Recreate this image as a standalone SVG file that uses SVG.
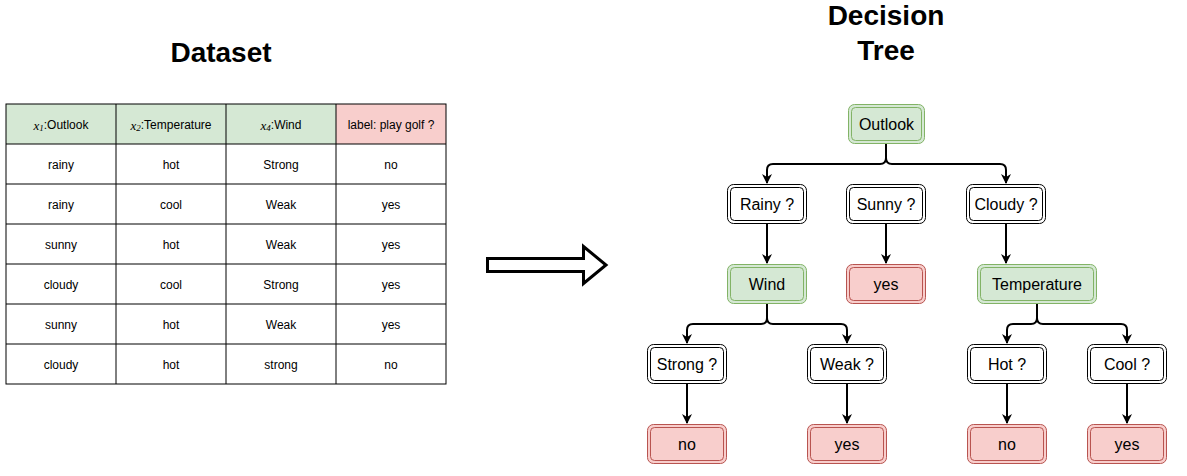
<svg xmlns="http://www.w3.org/2000/svg" width="1187" height="476" viewBox="0 0 1187 476">
<defs>
<marker id="ah" viewBox="0 0 10 10" refX="9" refY="5" markerWidth="10" markerHeight="10" markerUnits="userSpaceOnUse" orient="auto">
<path d="M0,0 L10,5 L0,10 L3,5 Z" fill="#000"/>
</marker>
</defs>
<style>
.title{font-family:"Liberation Sans",Arial,sans-serif;font-size:28px;font-weight:bold;fill:#000;text-anchor:middle}
.cell{font-family:"Liberation Sans",Arial,sans-serif;font-size:12px;fill:#000;text-anchor:middle;dominant-baseline:central}
.mx{font-family:"Liberation Serif","Times New Roman",serif;font-style:italic;font-size:13px}
.lbl{font-family:"Liberation Sans",Arial,sans-serif;font-size:16px;fill:#000;text-anchor:middle;dominant-baseline:central}
.w{fill:#fff;stroke:#000;stroke-width:1}
.g{fill:#d5e8d4;stroke:#82b366;stroke-width:1}
.r{fill:#f8cecc;stroke:#b85450;stroke-width:1}
.in{fill:none;stroke-width:1}
.conn path{fill:none;stroke:#000;stroke-width:2;marker-end:url(#ah)}
.tl{stroke:#000;stroke-width:1;fill:none}
</style>
<rect width="1187" height="476" fill="#fff"/>
<text class="title" x="221" y="62">Dataset</text>
<text class="title" x="886" y="25">Decision</text>
<text class="title" x="886" y="60">Tree</text>

<g id="table">
<rect x="6" y="104" width="330" height="40" fill="#d5e8d4"/>
<rect x="336" y="104" width="110" height="40" fill="#f8cecc"/>
<rect x="6" y="104" width="440" height="280" class="tl"/>
<path class="tl" d="M116,104V384M226,104V384M336,104V384M6,144H446M6,184H446M6,224H446M6,264H446M6,304H446M6,344H446"/>
<text class="cell" x="61" y="125"><tspan class="mx">x</tspan><tspan font-size="9" class="mx" dy="3" style="font-size:9px">1</tspan><tspan dy="-3">:Outlook</tspan></text>
<text class="cell" x="171" y="125"><tspan class="mx">x</tspan><tspan class="mx" dy="3" style="font-size:9px">2</tspan><tspan dy="-3">:Temperature</tspan></text>
<text class="cell" x="281" y="125"><tspan class="mx">x</tspan><tspan class="mx" dy="3" style="font-size:9px">4</tspan><tspan dy="-3">:Wind</tspan></text>
<text class="cell" x="391" y="125">label: play golf ?</text>
<text class="cell" x="61" y="165">rainy</text><text class="cell" x="171" y="165">hot</text><text class="cell" x="281" y="165">Strong</text><text class="cell" x="391" y="165">no</text>
<text class="cell" x="61" y="205">rainy</text><text class="cell" x="171" y="205">cool</text><text class="cell" x="281" y="205">Weak</text><text class="cell" x="391" y="205">yes</text>
<text class="cell" x="61" y="245">sunny</text><text class="cell" x="171" y="245">hot</text><text class="cell" x="281" y="245">Weak</text><text class="cell" x="391" y="245">yes</text>
<text class="cell" x="61" y="285">cloudy</text><text class="cell" x="171" y="285">cool</text><text class="cell" x="281" y="285">Strong</text><text class="cell" x="391" y="285">yes</text>
<text class="cell" x="61" y="325">sunny</text><text class="cell" x="171" y="325">hot</text><text class="cell" x="281" y="325">Weak</text><text class="cell" x="391" y="325">yes</text>
<text class="cell" x="61" y="365">cloudy</text><text class="cell" x="171" y="365">hot</text><text class="cell" x="281" y="365">strong</text><text class="cell" x="391" y="365">no</text>
</g>

<g id="bigarrow">
<path d="M487.5,258.5H583.5V246.5L606,265L583.5,283.5V271.5H487.5Z" fill="#fff" stroke="#000" stroke-width="3" stroke-linejoin="miter"/>
</g>

<g id="connectors" class="conn">
<path d="M886,144V158Q886,164 880,164H773Q767,164 767,170V183"/>
<path d="M886,144V158Q886,164 892,164H1000Q1006,164 1006,170V183"/>
<path d="M886,224V263"/>
<path d="M767,224V263"/>
<path d="M1006,224V263"/>
<path d="M767,304V318Q767,324 761,324H693Q687,324 687,330V343"/>
<path d="M767,304V318Q767,324 773,324H841Q847,324 847,330V343"/>
<path d="M1037,304V318Q1037,324 1031,324H1013Q1007,324 1007,330V343"/>
<path d="M1037,304V318Q1037,324 1043,324H1121Q1127,324 1127,330V343"/>
<path d="M687,384V423"/>
<path d="M847,384V423"/>
<path d="M1007,384V423"/>
<path d="M1127,384V423"/>
</g>

<g id="n-outlook"><rect class="g" x="848.5" y="104.5" width="76" height="39" rx="6"/><rect class="in" stroke="#82b366" x="851.5" y="107.5" width="70" height="33" rx="4"/><text class="lbl" x="886.5" y="124">Outlook</text></g>
<g id="n-rainy"><rect class="w" x="727.5" y="184.5" width="79" height="39" rx="6"/><rect class="in" stroke="#000" x="730.5" y="187.5" width="73" height="33" rx="4"/><text class="lbl" x="767" y="204">Rainy ?</text></g>
<g id="n-sunny"><rect class="w" x="846.5" y="184.5" width="79" height="39" rx="6"/><rect class="in" stroke="#000" x="849.5" y="187.5" width="73" height="33" rx="4"/><text class="lbl" x="886" y="204">Sunny ?</text></g>
<g id="n-cloudy"><rect class="w" x="966.5" y="184.5" width="79" height="39" rx="6"/><rect class="in" stroke="#000" x="969.5" y="187.5" width="73" height="33" rx="4"/><text class="lbl" x="1006" y="204">Cloudy ?</text></g>
<g id="n-wind"><rect class="g" x="727.5" y="264.5" width="79" height="39" rx="6"/><rect class="in" stroke="#82b366" x="730.5" y="267.5" width="73" height="33" rx="4"/><text class="lbl" x="767" y="284">Wind</text></g>
<g id="n-yes1"><rect class="r" x="846.5" y="264.5" width="79" height="39" rx="6"/><rect class="in" stroke="#b85450" x="849.5" y="267.5" width="73" height="33" rx="4"/><text class="lbl" x="886" y="284">yes</text></g>
<g id="n-temp"><rect class="g" x="977.5" y="264.5" width="119" height="39" rx="6"/><rect class="in" stroke="#82b366" x="980.5" y="267.5" width="113" height="33" rx="4"/><text class="lbl" x="1037" y="284">Temperature</text></g>
<g id="n-strong"><rect class="w" x="647.5" y="344.5" width="79" height="39" rx="6"/><rect class="in" stroke="#000" x="650.5" y="347.5" width="73" height="33" rx="4"/><text class="lbl" x="687" y="364">Strong ?</text></g>
<g id="n-weak"><rect class="w" x="807.5" y="344.5" width="79" height="39" rx="6"/><rect class="in" stroke="#000" x="810.5" y="347.5" width="73" height="33" rx="4"/><text class="lbl" x="847" y="364">Weak ?</text></g>
<g id="n-hot"><rect class="w" x="967.5" y="344.5" width="79" height="39" rx="6"/><rect class="in" stroke="#000" x="970.5" y="347.5" width="73" height="33" rx="4"/><text class="lbl" x="1007" y="364">Hot ?</text></g>
<g id="n-cool"><rect class="w" x="1087.5" y="344.5" width="79" height="39" rx="6"/><rect class="in" stroke="#000" x="1090.5" y="347.5" width="73" height="33" rx="4"/><text class="lbl" x="1127" y="364">Cool ?</text></g>
<g id="n-no1"><rect class="r" x="647.5" y="424.5" width="79" height="39" rx="6"/><rect class="in" stroke="#b85450" x="650.5" y="427.5" width="73" height="33" rx="4"/><text class="lbl" x="687" y="444">no</text></g>
<g id="n-yes2"><rect class="r" x="807.5" y="424.5" width="79" height="39" rx="6"/><rect class="in" stroke="#b85450" x="810.5" y="427.5" width="73" height="33" rx="4"/><text class="lbl" x="847" y="444">yes</text></g>
<g id="n-no2"><rect class="r" x="967.5" y="424.5" width="79" height="39" rx="6"/><rect class="in" stroke="#b85450" x="970.5" y="427.5" width="73" height="33" rx="4"/><text class="lbl" x="1007" y="444">no</text></g>
<g id="n-yes3"><rect class="r" x="1087.5" y="424.5" width="79" height="39" rx="6"/><rect class="in" stroke="#b85450" x="1090.5" y="427.5" width="73" height="33" rx="4"/><text class="lbl" x="1127" y="444">yes</text></g>
</svg>
